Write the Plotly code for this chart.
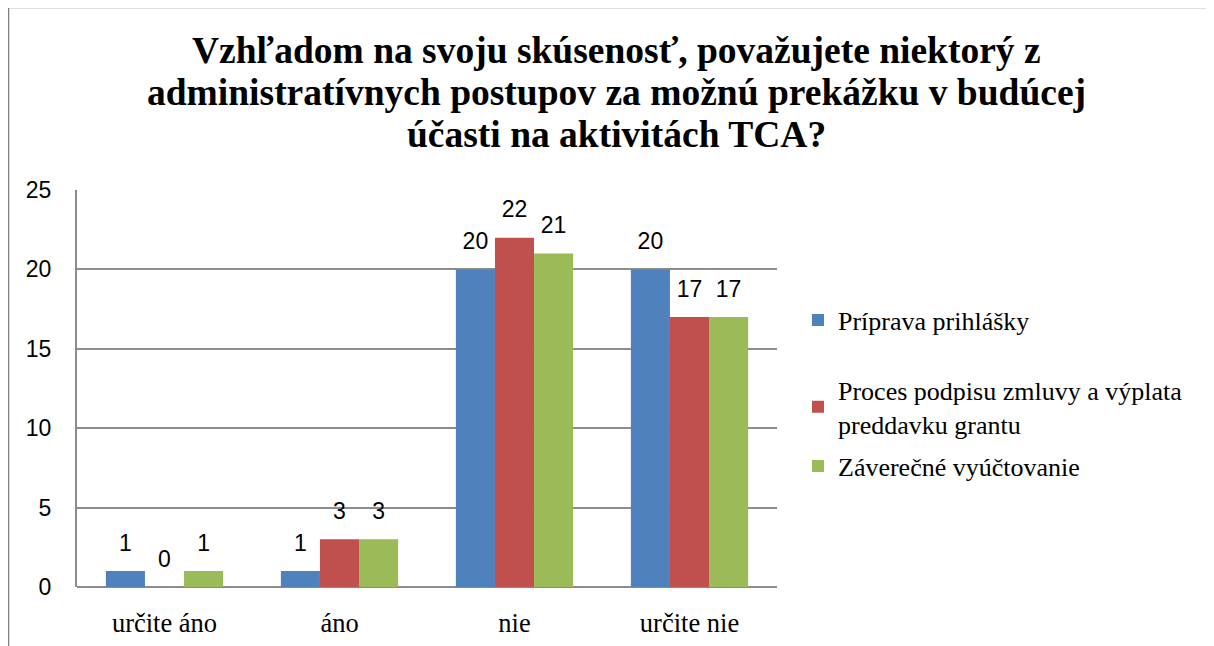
import plotly.graph_objects as go

categories = ["určite áno", "áno", "nie", "určite nie"]
series_names = ["Príprava prihlášky",
                "Proces podpisu zmluvy a výplata<br>preddavku grantu",
                "Záverečné vyúčtovanie"]
priprava = [1, 1, 20, 20]
proces = [0, 3, 22, 17]
zaverecne = [1, 3, 21, 17]
colors = ["#4F81BD", "#C0504D", "#9BBB59"]
y_ticks = [0, 5, 10, 15, 20, 25]
title_lines = ["Vzhľadom na svoju skúsenosť, považujete niektorý z",
               "administratívnych postupov za možnú prekážku v budúcej",
               "účasti na aktivitách TCA?"]

SERIF = "'Liberation Serif', 'Times New Roman', serif"
SANS = "Liberation Sans"

# page body has an 8px margin, so the figure is drawn 8px smaller
OFF = 8
W, H = 1214 - OFF, 646 - OFF
L, R, T, B = 77, 777, 190, 587  # reference pixel positions of plot area


def px(x):
    return (x - L) / (R - L)


def py(y):
    return (B - y) / (B - T)


fig = go.Figure()
all_vals = [priprava, proces, zaverecne]
legends = ["legend", "legend2", "legend3"]
for i, (name, vals, col) in enumerate(zip(series_names, all_vals, colors)):
    fig.add_trace(go.Bar(
        x=categories, y=vals, name=name,
        marker=dict(color=col, line=dict(width=0)),
        offsetgroup=str(i), legend=legends[i],
        hoverinfo="x+y",
    ))
for i, vals in enumerate(all_vals):
    fig.add_trace(go.Scatter(
        x=categories, y=vals, mode="markers+text",
        text=[str(v) for v in vals], textposition="top center",
        textfont=dict(family=SANS, size=23, color="#000000"),
        marker=dict(size=22, opacity=0),
        offsetgroup=str(i), showlegend=False, hoverinfo="skip",
        cliponaxis=False,
    ))

fig.update_layout(
    width=W, height=H,
    margin=dict(l=L - OFF, r=(W + OFF) - R, t=T - OFF, b=(H + OFF) - B,
                autoexpand=False),
    paper_bgcolor="white", plot_bgcolor="white",
    barmode="group", bargap=0.33, bargroupgap=0,
    scattermode="group", scattergap=0.33,
    showlegend=True,
    xaxis=dict(
        showline=False, showgrid=False, ticks="", automargin=False,
        tickfont=dict(family=SERIF, size=26.5, color="#000000"),
        ticklabelstandoff=17,
    ),
    yaxis=dict(
        range=[0, 25], tickvals=y_ticks, ticktext=[str(v) for v in y_ticks],
        showgrid=True, gridcolor="#8C8C8C", gridwidth=2, automargin=False,
        showline=True, linecolor="#8C8C8C", linewidth=2,
        zeroline=True, zerolinecolor="#8C8C8C", zerolinewidth=2,
        ticks="", tickfont=dict(family=SANS, size=23, color="#000000"),
        ticklabelstandoff=19,
    ),
)

# title as annotations (one per line) in bold serif
title_y = [50, 93, 134]
for line, yy in zip(title_lines, title_y):
    fig.add_annotation(
        text=line, showarrow=False,
        xref="paper", yref="paper", x=px(616), y=py(yy),
        xanchor="center", yanchor="middle",
        font=dict(family=SERIF, size=37.5, color="#000000", weight="bold"),
    )

legend_y = [320, 407, 466]
leg_font = dict(family=SERIF, size=26, color="#000000")
for key, yy in zip(legends, legend_y):
    fig.update_layout({key: dict(
        x=px(798), xanchor="left", y=py(yy), yanchor="middle",
        font=leg_font, itemwidth=30, bgcolor="rgba(0,0,0,0)",
    )})

# outer chart border (left and top edges visible)
fig.add_shape(type="line", xref="paper", yref="paper",
              x0=px(8), x1=px(8), y0=py(7), y1=py(660),
              line=dict(color="#808080", width=2.5))
fig.add_shape(type="line", xref="paper", yref="paper",
              x0=px(7), x1=px(1230), y0=py(7), y1=py(7),
              line=dict(color="#808080", width=2.5))

fig.write_html("out.html")
